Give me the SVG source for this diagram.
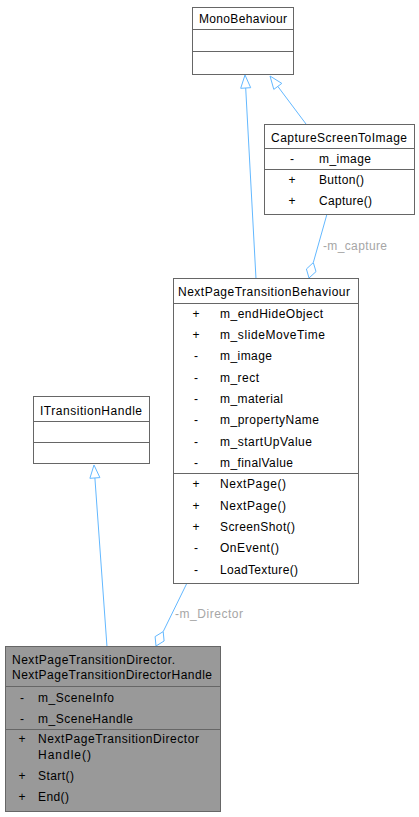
<svg xmlns="http://www.w3.org/2000/svg" width="419" height="817" viewBox="0 0 419 817">
<style>
text{font-family:"Liberation Sans",Arial,sans-serif;font-size:12px;fill:#000}
.box{fill:#fff;stroke:#666;stroke-width:1}
.hl{fill:#999;stroke:#666;stroke-width:1}
.sep{stroke:#666;stroke-width:1}
.c{text-anchor:middle}
.edge{stroke:#63b8ff;stroke-width:1;fill:none}
.inh{fill:#fff;stroke:#63b8ff;stroke-width:1}
.lbl{fill:#a6a6a6}
</style>
<rect width="419" height="817" fill="#fff"/>
<g id="connectors">
  <path class="edge" d="M256,279 L245.7,88"/>
  <polygon class="inh" points="245,75 250.7,87.7 240.7,88.3"/>
  <path class="edge" d="M306,124 L277.8,86.4"/>
  <polygon class="inh" points="270,76 281.8,83.4 273.8,89.4"/>
  <path class="edge" d="M107,647 L94.9,478"/>
  <polygon class="inh" points="94,465 99.9,477.6 89.9,478.3"/>
  <path class="edge" d="M187,583 L163.2,631.6"/>
  <polygon class="inh" points="156,646 155.1,636.6 163.2,631.6 164.1,641"/>
  <text class="lbl" x="175" y="618" textLength="68">-m_Director</text>
  <path class="edge" d="M327,214 L313.3,262.6"/>
  <polygon class="inh" points="309,278 306.4,269 313.3,262.6 316,271.6"/>
  <text class="lbl" x="323" y="250" textLength="64">-m_capture</text>
</g>
<g id="MonoBehaviour">
  <rect class="box" x="192.5" y="7.5" width="101" height="67"/>
  <line class="sep" x1="192.5" y1="29.5" x2="293.5" y2="29.5"/>
  <line class="sep" x1="192.5" y1="51.5" x2="293.5" y2="51.5"/>
  <text x="199" y="23" textLength="88">MonoBehaviour</text>
</g>
<g id="CaptureScreenToImage">
  <rect class="box" x="264.5" y="124.5" width="150" height="90"/>
  <line class="sep" x1="264.5" y1="148.5" x2="414.5" y2="148.5"/>
  <line class="sep" x1="264.5" y1="169.5" x2="414.5" y2="169.5"/>
  <text x="271" y="142" textLength="136">CaptureScreenToImage</text>
  <text class="c" x="292" y="163">-</text>
  <text x="319" y="163" textLength="52">m_image</text>
  <text class="c" x="292" y="184">+</text>
  <text x="319" y="184" textLength="45">Button()</text>
  <text class="c" x="292" y="205">+</text>
  <text x="319" y="205" textLength="53">Capture()</text>
</g>
<g id="NextPageTransitionBehaviour">
  <rect class="box" x="173.5" y="278.5" width="185" height="305"/>
  <line class="sep" x1="173.5" y1="303.5" x2="358.5" y2="303.5"/>
  <line class="sep" x1="173.5" y1="473.5" x2="358.5" y2="473.5"/>
  <text x="178" y="296" textLength="172">NextPageTransitionBehaviour</text>
  <text class="c" x="196" y="318">+</text><text x="220" y="318" textLength="103">m_endHideObject</text>
  <text class="c" x="196" y="339">+</text><text x="220" y="339" textLength="105">m_slideMoveTime</text>
  <text class="c" x="196" y="360">-</text><text x="220" y="360" textLength="52">m_image</text>
  <text class="c" x="196" y="382">-</text><text x="220" y="382" textLength="39">m_rect</text>
  <text class="c" x="196" y="403">-</text><text x="220" y="403" textLength="63">m_material</text>
  <text class="c" x="196" y="424">-</text><text x="220" y="424" textLength="99">m_propertyName</text>
  <text class="c" x="196" y="446">-</text><text x="220" y="446" textLength="92">m_startUpValue</text>
  <text class="c" x="196" y="467">-</text><text x="220" y="467" textLength="73">m_finalValue</text>
  <text class="c" x="196" y="488">+</text><text x="220" y="488" textLength="66">NextPage()</text>
  <text class="c" x="196" y="510">+</text><text x="220" y="510" textLength="66">NextPage()</text>
  <text class="c" x="196" y="531">+</text><text x="220" y="531" textLength="75">ScreenShot()</text>
  <text class="c" x="196" y="552">-</text><text x="220" y="552" textLength="59">OnEvent()</text>
  <text class="c" x="196" y="574">-</text><text x="220" y="574" textLength="78">LoadTexture()</text>
</g>
<g id="ITransitionHandle">
  <rect class="box" x="33.5" y="396.5" width="116" height="67"/>
  <line class="sep" x1="33.5" y1="421.5" x2="149.5" y2="421.5"/>
  <line class="sep" x1="33.5" y1="442.5" x2="149.5" y2="442.5"/>
  <text x="40" y="415" textLength="102">ITransitionHandle</text>
</g>
<g id="NextPageTransitionDirectorHandle">
  <rect class="hl" x="5.5" y="646.5" width="215" height="165"/>
  <line class="sep" x1="5.5" y1="686.5" x2="220.5" y2="686.5"/>
  <line class="sep" x1="5.5" y1="729.5" x2="220.5" y2="729.5"/>
  <text x="12" y="664" textLength="163">NextPageTransitionDirector.</text>
  <text x="12" y="679" textLength="200">NextPageTransitionDirectorHandle</text>
  <text class="c" x="22" y="702">-</text><text x="38" y="702" textLength="76">m_SceneInfo</text>
  <text class="c" x="22" y="723">-</text><text x="38" y="723" textLength="95">m_SceneHandle</text>
  <text class="c" x="22" y="743">+</text><text x="38" y="743" textLength="161">NextPageTransitionDirector</text>
  <text x="38" y="759" textLength="53">Handle()</text>
  <text class="c" x="22" y="780">+</text><text x="38" y="780" textLength="36">Start()</text>
  <text class="c" x="22" y="801">+</text><text x="38" y="801" textLength="31">End()</text>
</g>
</svg>
